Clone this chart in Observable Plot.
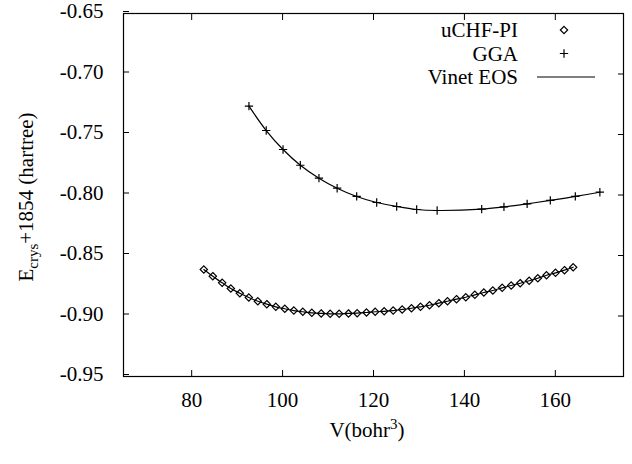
<!DOCTYPE html>
<html><head><meta charset="utf-8">
<script src="https://cdn.jsdelivr.net/npm/d3@7"></script>
<script src="https://cdn.jsdelivr.net/npm/@observablehq/plot@0.6"></script>
<style>
body{margin:0;background:#fff}
svg, svg text { font-family: "Liberation Serif", "DejaVu Serif", "Tinos", "Times New Roman", Times, serif !important; }
</style>
</head><body><div id="chart"></div>
<script>
// uCHF-PI data (diamonds)
const uchfV = [82.67, 84.65, 86.71, 88.61, 90.59, 92.57, 94.55, 96.53, 98.51, 100.49,
  102.47, 104.45, 106.43, 108.49, 110.47, 112.45, 114.5, 116.41, 118.46, 120.37,
  122.35, 124.33, 126.31, 128.36, 130.34, 132.32, 134.37, 136.28, 138.26, 140.31,
  142.29, 144.27, 146.25, 148.31, 150.29, 152.27, 154.25, 156.15, 158.06, 160.04,
  162.02, 163.93];
const uchfE = [-0.8616, -0.8671, -0.8726, -0.8773, -0.8812, -0.8847, -0.8878, -0.8902, -0.8924, -0.8940,
  -0.8955, -0.8965, -0.8974, -0.8979, -0.8982, -0.8982, -0.8979, -0.8977, -0.8971, -0.8965,
  -0.8961, -0.8955, -0.8946, -0.8936, -0.8924, -0.8911, -0.8894, -0.8878, -0.8861, -0.8845,
  -0.8825, -0.8806, -0.8789, -0.8767, -0.8748, -0.8729, -0.8709, -0.8688, -0.8663, -0.8643,
  -0.8621, -0.8597];
// GGA data (plus signs)
const ggaV = [92.6, 96.4, 100.1, 103.9, 108.0, 112.0, 116.3, 120.7, 125.1, 129.5, 134.0,
  143.8, 148.7, 153.8, 158.9, 164.4, 169.8];
const ggaE = [-0.7266, -0.7467, -0.7624, -0.7754, -0.7861, -0.7944, -0.8012, -0.8062, -0.8095, -0.8120, -0.8128,
  -0.8117, -0.8098, -0.8073, -0.8045, -0.8012, -0.7977];

const xTicks = [80, 100, 120, 140, 160];
const yTicks = [-0.95, -0.90, -0.85, -0.80, -0.75, -0.70, -0.65];
const seriesNames = ["uCHF-PI", "GGA", "Vinet EOS"];

const uchf = uchfV.map((v, i) => ({V: v, E: uchfE[i]}));
const gga = ggaV.map((v, i) => ({V: v, E: ggaE[i]}));

const font = "Liberation Serif";

const plot = Plot.plot({
  width: 632, height: 464,
  marginLeft: 123, marginRight: 9, marginTop: 13, marginBottom: 88,
  style: {fontFamily: font, fontSize: "21px", color: "black", background: "white"},
  x: {domain: [65, 175]},
  y: {domain: [-0.95, -0.65]},
  marks: [
    Plot.line(gga, {x: "V", y: "E", curve: "catmull-rom", stroke: "black", strokeWidth: 1.2}),
    Plot.line(uchf, {x: "V", y: "E", curve: "catmull-rom", stroke: "black", strokeWidth: 1.2}),
    Plot.dot(uchf, {x: "V", y: "E", symbol: "diamond2", r: 3.3, stroke: "black", strokeWidth: 1.2, fill: "none"}),
    Plot.dot(gga, {x: "V", y: "E", symbol: "plus", r: 2.8, stroke: "black", strokeWidth: 1.2}),
    Plot.axisX({ticks: xTicks, anchor: "bottom", tickSize: -6, tickPadding: 22, label: null, tickFormat: d => String(d)}),
    Plot.axisX({ticks: xTicks, anchor: "top", tickSize: -6, label: null, tickFormat: () => ""}),
    Plot.axisY({ticks: yTicks, anchor: "left", tickSize: -6, tickPadding: 26, label: null, tickFormat: d => d.toFixed(2), dy: -2}),
    Plot.axisY({ticks: yTicks, anchor: "right", tickSize: -6, label: null, tickFormat: () => ""}),
    Plot.frame({stroke: "black", strokeWidth: 1.2})
  ]
});
document.getElementById("chart").appendChild(plot);

const svg = d3.select(plot);
// y-axis label with subscript
const yl = svg.append("text")
  .attr("transform", "translate(33,197) rotate(-90)")
  .attr("text-anchor", "middle")
  .attr("font-size", 21).attr("fill", "black");
yl.append("tspan").text("E");
yl.append("tspan").attr("font-size", 15).attr("dy", 5).text("crys");
yl.append("tspan").attr("dy", -5).text("+1854 (hartree)");

// x-axis label with superscript
const xl = svg.append("text")
  .attr("x", 367).attr("y", 437)
  .attr("text-anchor", "middle")
  .attr("font-size", 21).attr("fill", "black");
xl.append("tspan").text("V(bohr");
xl.append("tspan").attr("font-size", 15).attr("dy", -8).text("3");
xl.append("tspan").attr("dy", 8).text(")");

// legend
const rowsY = [30, 53.5, 77];
const lg = svg.append("g").attr("font-size", 21).attr("fill", "black");
seriesNames.forEach((name, i) => {
  lg.append("text").attr("x", 518).attr("y", rowsY[i]).attr("text-anchor", "end")
    .attr("dominant-baseline", "central").text(name);
});
lg.append("path").attr("transform", `translate(564,${rowsY[0]})`)
  .attr("d", d3.symbol(d3.symbolDiamond2, Math.PI * 3.3 * 3.3)())
  .attr("fill", "none").attr("stroke", "black").attr("stroke-width", 1.2);
lg.append("path").attr("transform", `translate(564,${rowsY[1]})`)
  .attr("d", d3.symbol(d3.symbolPlus, Math.PI * 2.8 * 2.8)())
  .attr("fill", "none").attr("stroke", "black").attr("stroke-width", 1.2);
lg.append("line").attr("x1", 537).attr("x2", 595).attr("y1", rowsY[2]).attr("y2", rowsY[2])
  .attr("stroke", "black").attr("stroke-width", 1.2);
</script>
</body></html>
